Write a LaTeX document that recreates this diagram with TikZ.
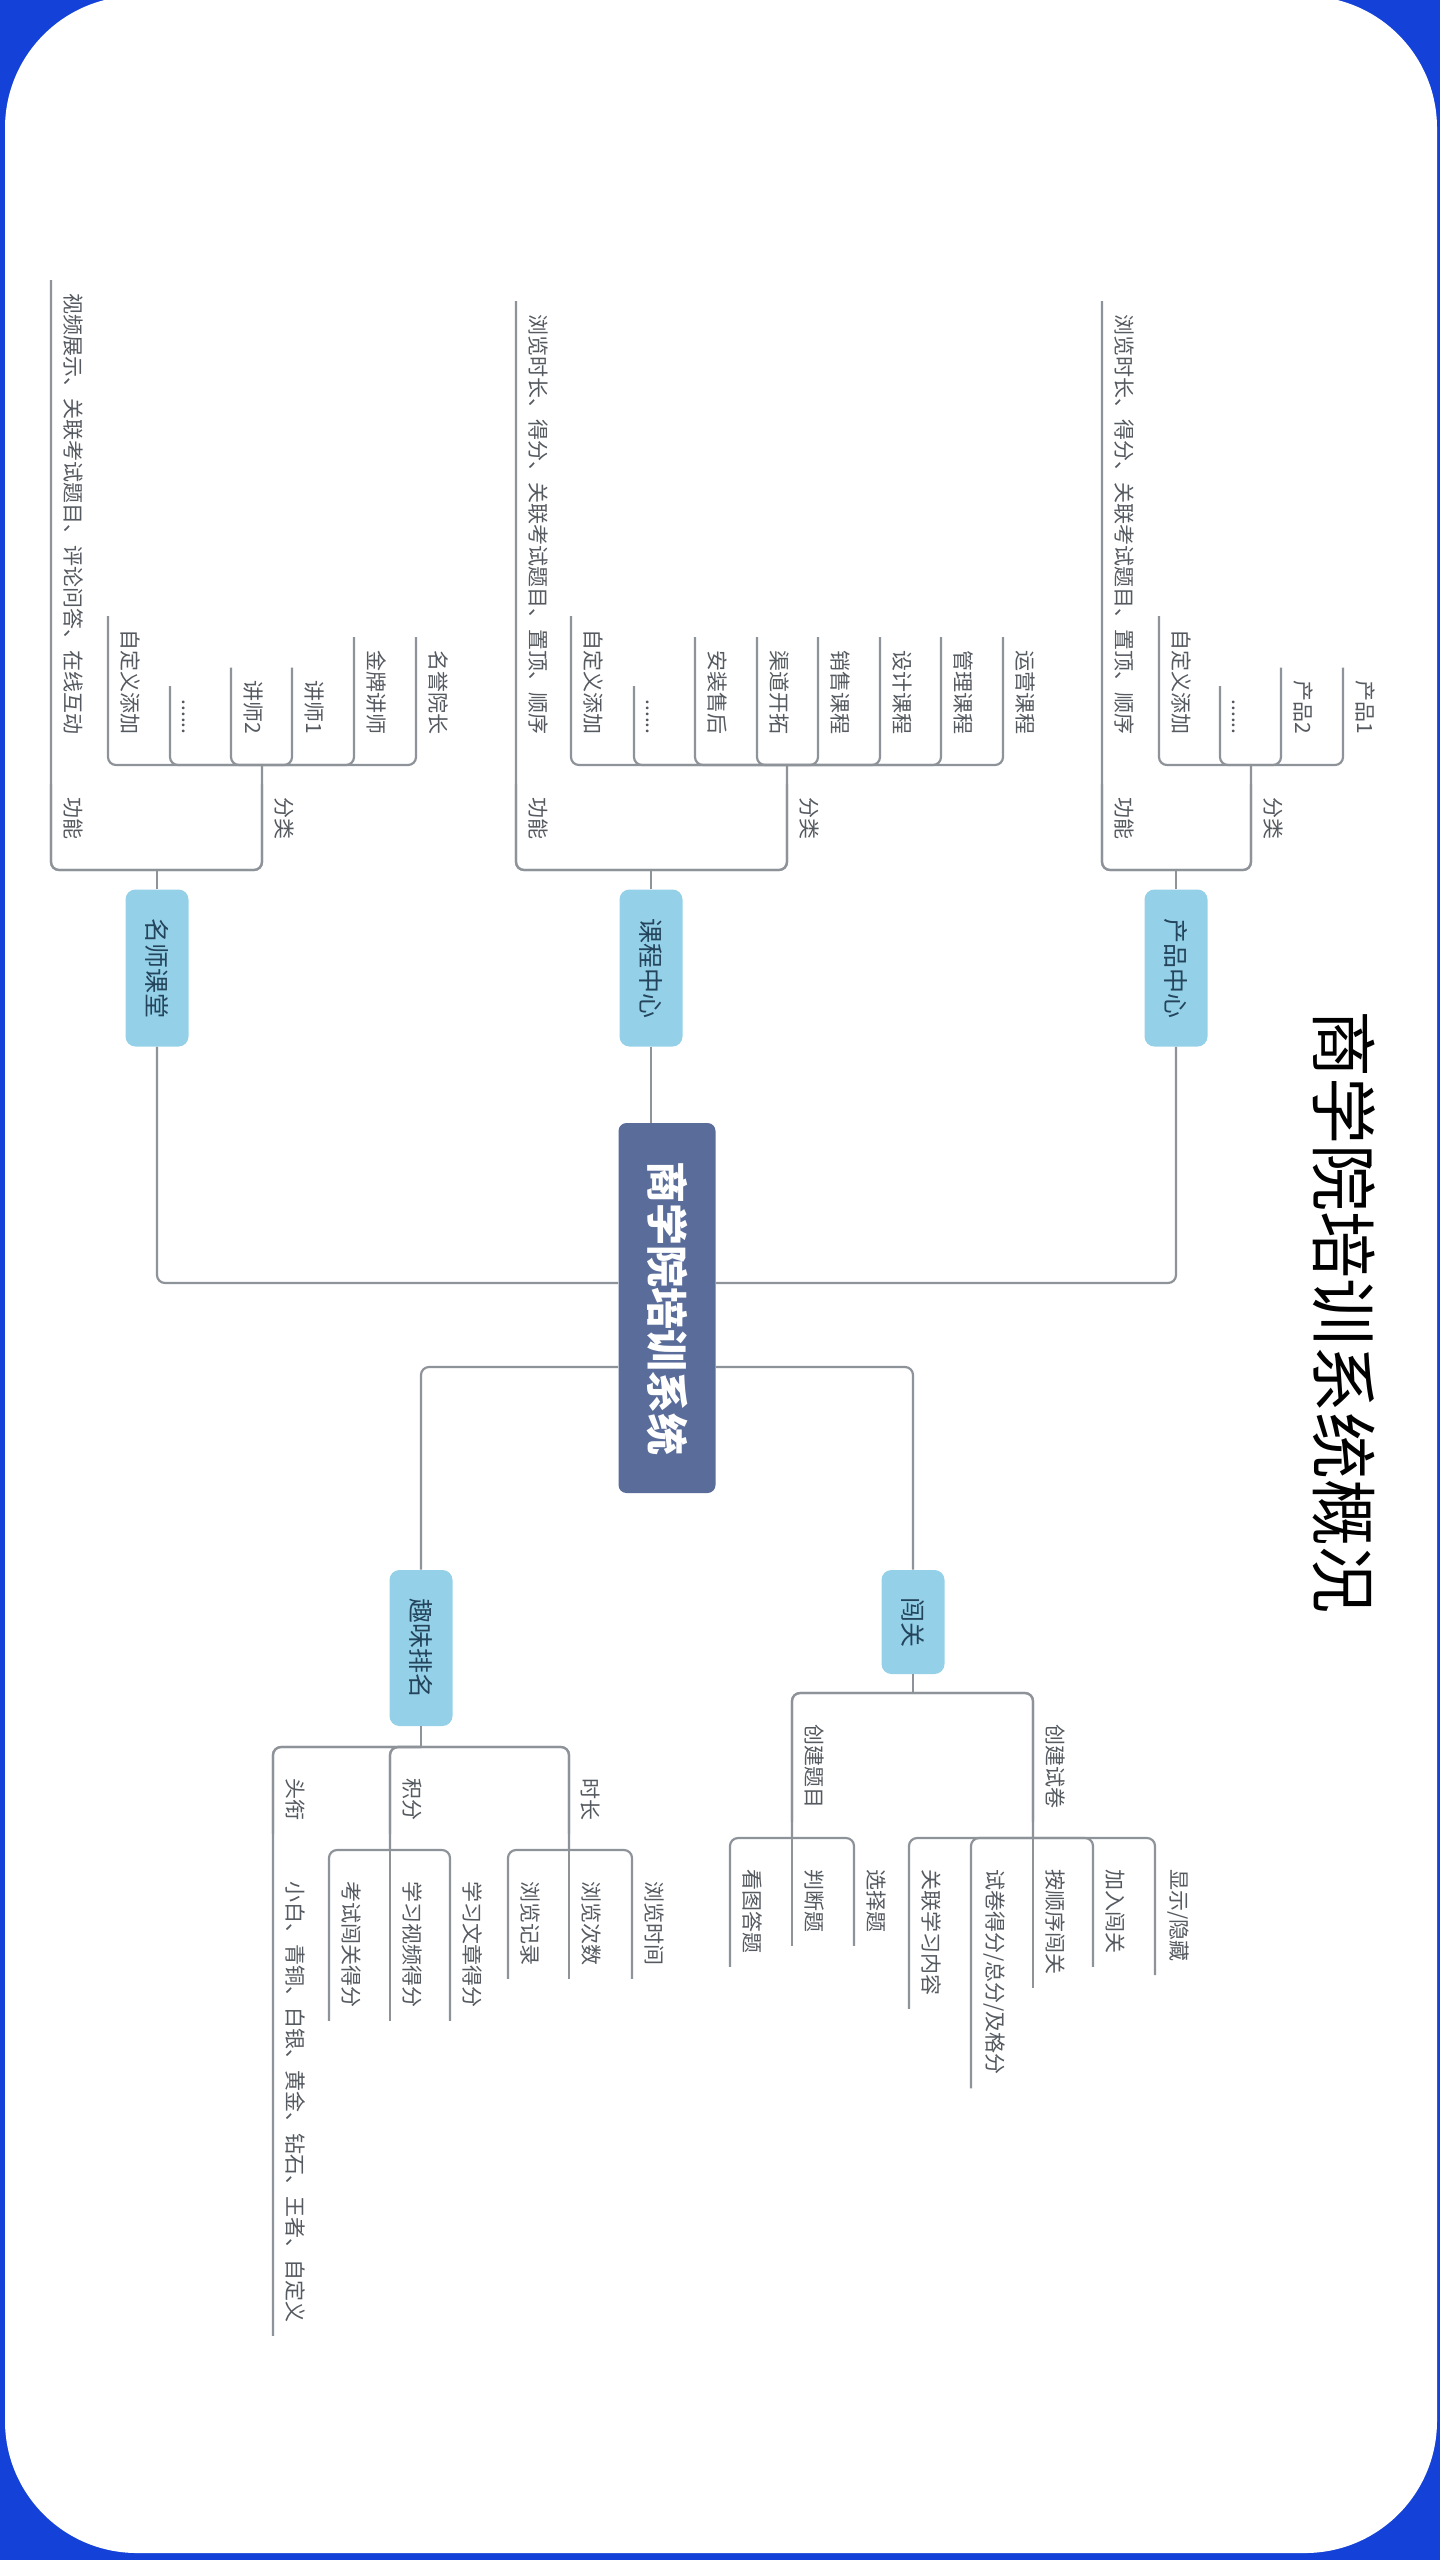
\documentclass[tikz,border=0pt]{standalone}
\usepackage{fontspec}
\setmainfont{Noto Sans CJK SC}
\usepackage{tikz}
\definecolor{frameblue}{HTML}{1442D8}
\definecolor{coreblue}{HTML}{5A6C99}
\definecolor{branchblue}{HTML}{94D1E8}
\definecolor{linegray}{HTML}{8E939A}
\definecolor{leafgray}{HTML}{555A60}
\definecolor{branchtext}{HTML}{24445C}
\tikzset{
    link/.style={draw=linegray, line width=1.1pt, rounded corners=4pt},
    elbow/.style={to path={-| (\tikztotarget)}}
}

\begin{document}
\begin{tikzpicture}[
    x=0.5pt, y=-0.5pt,
    core/.style={
        rotate=-90,
        fill=coreblue,
        rounded corners=4pt,
        minimum width=185pt,
        minimum height=48.5pt,
        text=white,
        font=\bfseries\fontsize{21pt}{24pt}\selectfont
        },
    branch/.style={
        rotate=-90,
        fill=branchblue,
        rounded corners=5pt,
        minimum height=31.5pt,
        text=branchtext,
        font=\fontsize{12.5pt}{15pt}\selectfont
        },
    item up/.style={
        rotate=-90,
        anchor=south east,
        inner xsep=6.5pt,
        inner ysep=6pt,
        text=leafgray,
        font=\fontsize{10.5pt}{12pt}\selectfont
        },
    item down/.style={item up, anchor=south west}
    ]
    \useasboundingbox (0,0) rectangle (1440,2560);
    \fill[frameblue] (0,0) rectangle (1440,2560);
    \fill[white, rounded corners=66pt] (5,-4) rectangle (1437,2553);

    \node[rotate=-90, font=\fontsize{33.5pt}{36pt}\selectfont] (title) at (1344,1312) {商学院培训系统概况};

    \node[core] (center) at (667,1308) {商学院培训系统};
    \coordinate (hub up) at (667,1283);
    \coordinate (hub low) at (667,1367);

    % 名师课堂
    \node[branch, minimum width=78.5pt] (ms) at (157,968) {名师课堂};
    \coordinate (ms-j) at (157,870);
    \node[item up] (ms-gn) at (51,853) {功能};
    \node[item up] (ms-gn-1) at (51,748) {视频展示、关联考试题目、评论问答、在线互动};
    \node[item up] (ms-fl) at (262,853) {分类};
    \coordinate (ms-fl-j) at (262,765);
    \node[item up] (ms-fl-1) at (108,748) {自定义添加};
    \node[item up] (ms-fl-2) at (170,748) {......};
    \node[item up] (ms-fl-3) at (231,748) {讲师2};
    \node[item up] (ms-fl-4) at (292,748) {讲师1};
    \node[item up] (ms-fl-5) at (354,748) {金牌讲师};
    \node[item up] (ms-fl-6) at (416,748) {名誉院长};

    % 课程中心
    \node[branch, minimum width=78.5pt] (kc) at (651,968) {课程中心};
    \coordinate (kc-j) at (651,870);
    \node[item up] (kc-gn) at (516,853) {功能};
    \node[item up] (kc-gn-1) at (516,748) {浏览时长、得分、关联考试题目、置顶、顺序};
    \node[item up] (kc-fl) at (787,853) {分类};
    \coordinate (kc-fl-j) at (787,765);
    \node[item up] (kc-fl-1) at (571,748) {自定义添加};
    \node[item up] (kc-fl-2) at (634,748) {......};
    \node[item up] (kc-fl-3) at (695,748) {安装售后};
    \node[item up] (kc-fl-4) at (757,748) {渠道开拓};
    \node[item up] (kc-fl-5) at (818,748) {销售课程};
    \node[item up] (kc-fl-6) at (880,748) {设计课程};
    \node[item up] (kc-fl-7) at (941,748) {管理课程};
    \node[item up] (kc-fl-8) at (1003,748) {运营课程};

    % 产品中心
    \node[branch, minimum width=78.5pt] (cp) at (1176,968) {产品中心};
    \coordinate (cp-j) at (1176,870);
    \node[item up] (cp-gn) at (1102,853) {功能};
    \node[item up] (cp-gn-1) at (1102,748) {浏览时长、得分、关联考试题目、置顶、顺序};
    \node[item up] (cp-fl) at (1251,853) {分类};
    \coordinate (cp-fl-j) at (1251,765);
    \node[item up] (cp-fl-1) at (1159,748) {自定义添加};
    \node[item up] (cp-fl-2) at (1220,748) {......};
    \node[item up] (cp-fl-3) at (1281,748) {产品2};
    \node[item up] (cp-fl-4) at (1343,748) {产品1};

    % 趣味排名
    \node[branch, minimum width=78pt] (qw) at (421,1648) {趣味排名};
    \coordinate (qw-j) at (421,1747);
    \node[item down] (qw-tx) at (273,1765) {头衔};
    \node[item down] (qw-tx-1) at (273,1868) {小白、青铜、白银、黄金、钻石、王者、自定义};
    \node[item down] (qw-jf) at (390,1765) {积分};
    \coordinate (qw-jf-j) at (390,1850);
    \node[item down] (qw-jf-1) at (329,1868) {考试闯关得分};
    \node[item down] (qw-jf-2) at (390,1868) {学习视频得分};
    \node[item down] (qw-jf-3) at (450,1868) {学习文章得分};
    \node[item down] (qw-sc) at (569,1765) {时长};
    \coordinate (qw-sc-j) at (569,1850);
    \node[item down] (qw-sc-1) at (508,1868) {浏览记录};
    \node[item down] (qw-sc-2) at (569,1868) {浏览次数};
    \node[item down] (qw-sc-3) at (632,1868) {浏览时间};

    % 闯关
    \node[branch, minimum width=52pt] (cg) at (913,1622) {闯关};
    \coordinate (cg-j) at (913,1693);
    \node[item down] (cg-tm) at (792,1711) {创建题目};
    \coordinate (cg-tm-j) at (792,1838);
    \node[item down] (cg-tm-1) at (730,1856) {看图答题};
    \node[item down] (cg-tm-2) at (792,1856) {判断题};
    \node[item down] (cg-tm-3) at (854,1856) {选择题};
    \node[item down] (cg-sj) at (1033,1711) {创建试卷};
    \coordinate (cg-sj-j) at (1033,1838);
    \node[item down] (cg-sj-1) at (909,1856) {关联学习内容};
    \node[item down] (cg-sj-2) at (971,1856) {试卷得分/总分/及格分};
    \node[item down] (cg-sj-3) at (1033,1856) {按顺序闯关};
    \node[item down] (cg-sj-4) at (1093,1856) {加入闯关};
    \node[item down] (cg-sj-5) at (1155,1856) {显示/隐藏};

    \path[link]
    (kc.east) edge (kc.east |- center.west)
    (center.south |- hub up) edge[elbow] (ms.east)
    (center.north |- hub up) edge[elbow] (cp.east)
    (center.south |- hub low) edge[elbow] (qw.west)
    (center.north |- hub low) edge[elbow] (cg.west)
    ;
    \path[link]
    (ms.west) edge (ms-j)
    (ms-j) edge[elbow] (ms-gn.south west) edge[elbow] (ms-gn-1.south west) edge[elbow] (ms-fl.south west) edge[elbow] (ms-fl-j)
    (ms-fl-j) edge[elbow] (ms-fl-1.south west) edge[elbow] (ms-fl-2.south west) edge[elbow] (ms-fl-3.south west)
              edge[elbow] (ms-fl-4.south west) edge[elbow] (ms-fl-5.south west) edge[elbow] (ms-fl-6.south west)
    (kc.west) edge (kc-j)
    (kc-j) edge[elbow] (kc-gn.south west) edge[elbow] (kc-gn-1.south west) edge[elbow] (kc-fl.south west) edge[elbow] (kc-fl-j)
    (kc-fl-j) edge[elbow] (kc-fl-1.south west) edge[elbow] (kc-fl-2.south west) edge[elbow] (kc-fl-3.south west)
              edge[elbow] (kc-fl-4.south west) edge[elbow] (kc-fl-5.south west) edge[elbow] (kc-fl-6.south west)
              edge[elbow] (kc-fl-7.south west) edge[elbow] (kc-fl-8.south west)
    (cp.west) edge (cp-j)
    (cp-j) edge[elbow] (cp-gn.south west) edge[elbow] (cp-gn-1.south west) edge[elbow] (cp-fl.south west) edge[elbow] (cp-fl-j)
    (cp-fl-j) edge[elbow] (cp-fl-1.south west) edge[elbow] (cp-fl-2.south west) edge[elbow] (cp-fl-3.south west)
              edge[elbow] (cp-fl-4.south west)
    ;
    \path[link]
    (qw.east) edge (qw-j)
    (qw-j) edge[elbow] (qw-tx.south east) edge[elbow] (qw-tx-1.south east)
           edge[elbow] (qw-jf.south east) edge[elbow] (qw-jf-j) edge[elbow] (qw-sc.south east) edge[elbow] (qw-sc-j)
    (qw-jf-j) edge[elbow] (qw-jf-1.south east) edge (qw-jf-2.south east) edge[elbow] (qw-jf-3.south east)
    (qw-sc-j) edge[elbow] (qw-sc-1.south east) edge (qw-sc-2.south east) edge[elbow] (qw-sc-3.south east)
    (cg.east) edge (cg-j)
    (cg-j) edge[elbow] (cg-tm.south east) edge[elbow] (cg-tm-j) edge[elbow] (cg-sj.south east) edge[elbow] (cg-sj-j)
    (cg-tm-j) edge[elbow] (cg-tm-1.south east) edge (cg-tm-2.south east) edge[elbow] (cg-tm-3.south east)
    (cg-sj-j) edge[elbow] (cg-sj-1.south east) edge[elbow] (cg-sj-2.south east) edge (cg-sj-3.south east)
              edge[elbow] (cg-sj-4.south east) edge[elbow] (cg-sj-5.south east)
    ;
\end{tikzpicture}
\end{document}
